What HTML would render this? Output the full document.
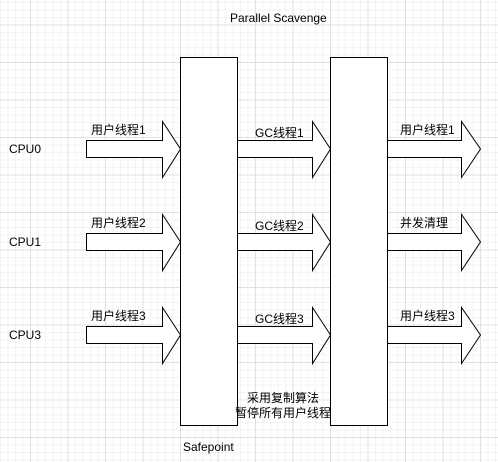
<!DOCTYPE html>
<html><head><meta charset="utf-8"><style>
html,body{margin:0;padding:0}
body{width:498px;height:462px;background:#fff;overflow:hidden;position:relative;
background-image:
linear-gradient(to right,#e0e0e0 1px,transparent 1px),
linear-gradient(to bottom,#e0e0e0 1px,transparent 1px),
linear-gradient(to right,#f3f3f3 1px,transparent 1px),
linear-gradient(to bottom,#f3f3f3 1px,transparent 1px);
background-size:37.5px 37.5px,37.5px 37.5px,7.5px 7.5px,7.5px 7.5px;
background-position:30px 0,0 24.5px,0 2px,0 2px;}
svg{position:absolute;left:0;top:0}
text{font-family:"Liberation Sans","Noto Sans CJK SC",sans-serif;font-size:12px;fill:#000}
</style></head><body>
<svg width="498" height="462" viewBox="0 0 498 462">
<g fill="#fff" stroke="#000" stroke-width="1">
<rect x="180.5" y="57.5" width="57" height="368"/>
<rect x="330.5" y="57.5" width="57" height="368"/>
<path d="M86.5 140.5H162.5V121.5L180.5 149L162.5 177.5V157.5H86.5Z"/>
<path d="M86.5 233.5H162.5V214.5L180.5 242L162.5 270.5V250.5H86.5Z"/>
<path d="M86.5 326.5H162.5V307.5L180.5 335L162.5 363.5V343.5H86.5Z"/>
<path d="M237.5 140.5H312.5V121.5L330.5 149L312.5 177.5V157.5H237.5Z"/>
<path d="M237.5 233.5H312.5V214.5L330.5 242L312.5 270.5V250.5H237.5Z"/>
<path d="M237.5 326.5H312.5V307.5L330.5 335L312.5 363.5V343.5H237.5Z"/>
<path d="M387.5 140.5H461.5V121.5L480.5 149L461.5 177.5V157.5H387.5Z"/>
<path d="M387.5 233.5H461.5V214.5L480.5 242L461.5 270.5V250.5H387.5Z"/>
<path d="M387.5 326.5H461.5V307.5L480.5 335L461.5 363.5V343.5H387.5Z"/>
</g>
<text x="230" y="22">Parallel Scavenge</text>
<text x="9" y="153">CPU0</text>
<text x="9" y="246">CPU1</text>
<text x="9" y="339">CPU3</text>
<text x="91" y="134">用户线程1</text>
<text x="91" y="227">用户线程2</text>
<text x="91" y="320">用户线程3</text>
<text x="255" y="137">GC线程1</text>
<text x="255" y="230">GC线程2</text>
<text x="255" y="323">GC线程3</text>
<text x="400" y="134">用户线程1</text>
<text x="400" y="227">并发清理</text>
<text x="400" y="320">用户线程3</text>
<text x="247" y="402">采用复制算法</text>
<text x="235" y="417">暂停所有用户线程</text>
<text x="183" y="451">Safepoint</text>
</svg>
</body></html>
